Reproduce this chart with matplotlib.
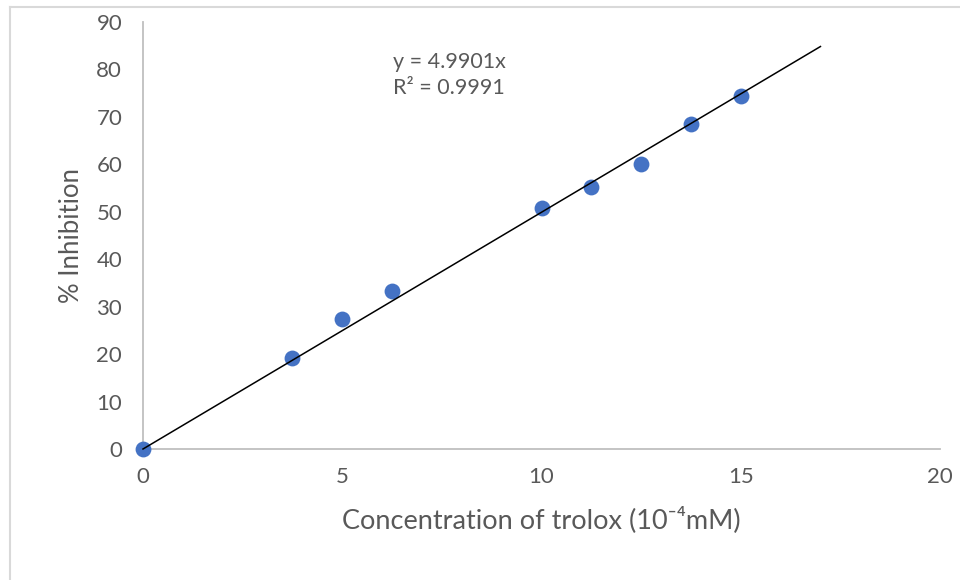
import numpy as np
import matplotlib.pyplot as plt
from matplotlib.lines import Line2D

plt.rcParams['font.family'] = ['Lato', 'DejaVu Sans']

conc = [0, 3.75, 5, 6.25, 10, 11.25, 12.5, 13.75, 15]
inhibition = [0, 19.2, 27.5, 33.2, 50.9, 55.3, 60.1, 68.5, 74.3]
slope = 4.9901
r2 = 0.9991
x_ticks = [0, 5, 10, 15, 20]
y_ticks = [0, 10, 20, 30, 40, 50, 60, 70, 80, 90]

grey = '#595959'
axis_grey = '#BFBFBF'

fig = plt.figure(figsize=(9.6, 5.8), dpi=100)
ax = fig.add_axes([143 / 960, 1 - 449 / 580, 797 / 960, 427 / 580])

# trendline through origin, extended to x = 17
xt = np.array([0, 17])
ax.plot(xt, slope * xt, color='black', lw=1.1, zorder=4, clip_on=False)
ax.scatter(conc, inhibition, s=130, color='#4472C4', zorder=3, linewidths=0, clip_on=False)

ax.set_xlim(0, 20)
ax.set_ylim(0, 90)
ax.set_xticks(x_ticks)
ax.set_yticks(y_ticks)
ax.tick_params(length=0, labelsize=16, colors=grey)
ax.tick_params(axis='x', pad=13)
ax.tick_params(axis='y', pad=15)

for s in ['top', 'right']:
    ax.spines[s].set_visible(False)
for s in ['left', 'bottom']:
    ax.spines[s].set_color(axis_grey)
    ax.spines[s].set_linewidth(1.3)
    ax.spines[s].set_zorder(1)

ax.set_xlabel('Concentration of trolox (10⁻⁴mM)', fontsize=19.5, color=grey, labelpad=14)
ax.set_ylabel('% Inhibition', fontsize=18.5, color=grey, labelpad=9)

ax.text(0.314, 0.93, f'y = {slope}x\nR² = {r2}', transform=ax.transAxes,
        fontsize=15.5, color=grey, va='top', ha='left', linespacing=1.4)

# chart area border (left and top visible)
fig.add_artist(Line2D([9.5 / 960, 9.5 / 960], [0, 1 - 7 / 580], color='#D9D9D9', lw=1.5))
fig.add_artist(Line2D([9.5 / 960, 1], [1 - 7 / 580, 1 - 7 / 580], color='#D9D9D9', lw=1.5))

fig.savefig('out.png', dpi=100, facecolor='white')
